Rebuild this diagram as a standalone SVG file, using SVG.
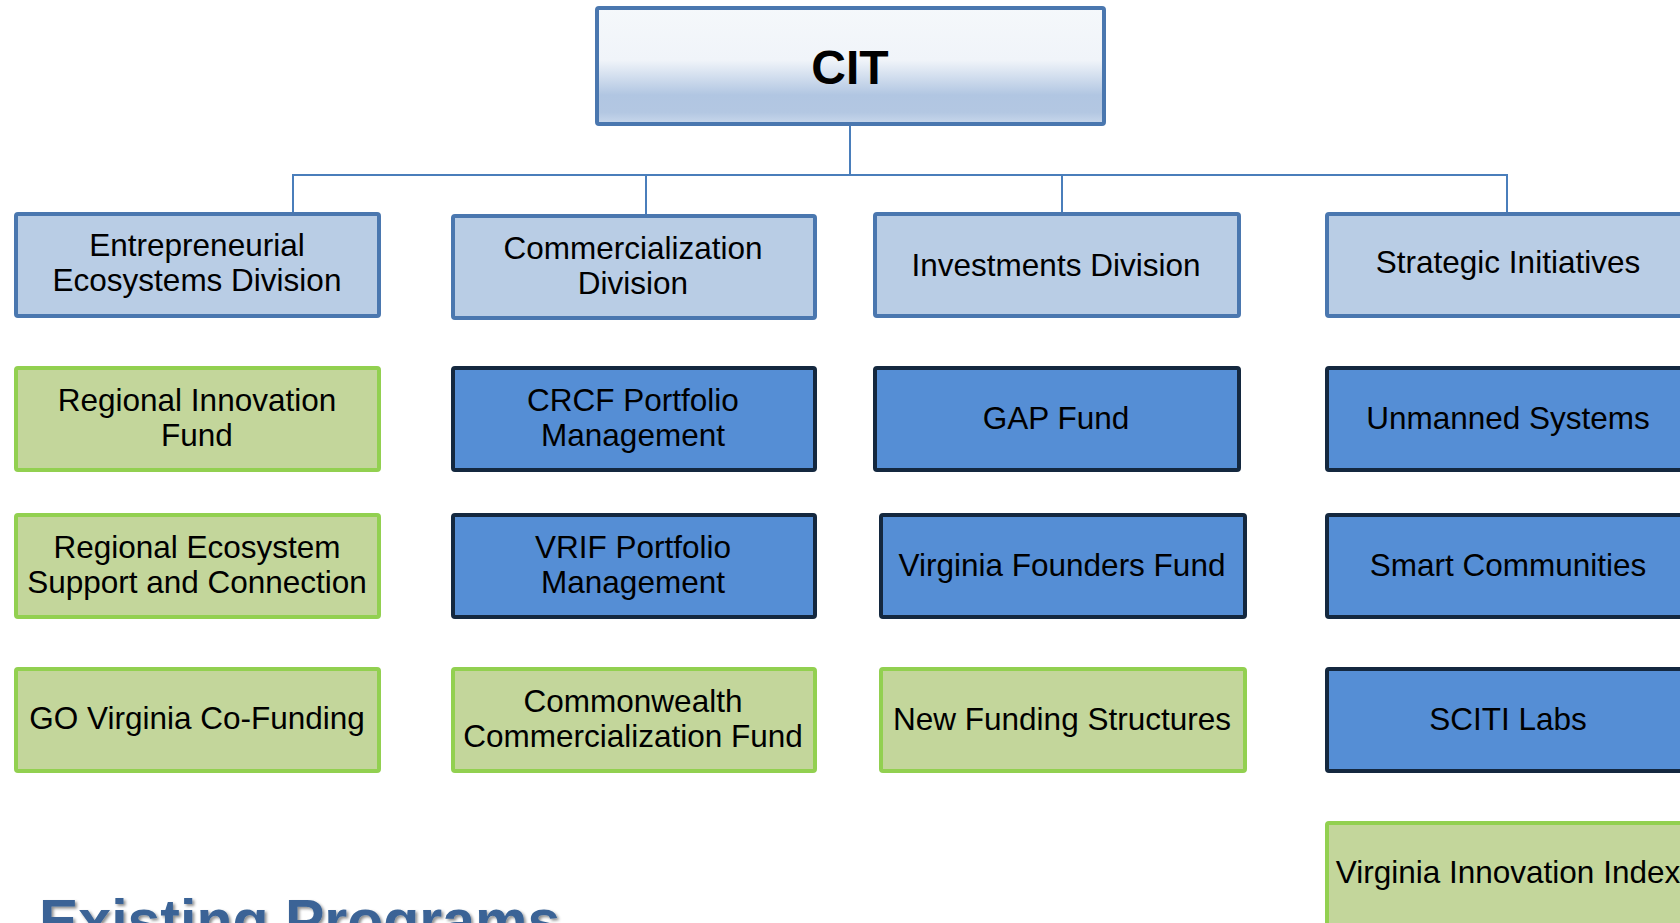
<svg xmlns="http://www.w3.org/2000/svg" width="1680" height="923" viewBox="0 0 1680 923">
  <defs>
    <linearGradient id="citFill" x1="0" y1="0" x2="0" y2="1">
      <stop offset="0" stop-color="#F5F8FB"/>
      <stop offset="0.45" stop-color="#F0F4F9"/>
      <stop offset="0.75" stop-color="#B1C6E2"/>
      <stop offset="0.9" stop-color="#B3C7E2"/>
      <stop offset="1" stop-color="#C9D8EC"/>
    </linearGradient>
    <filter id="titleShadow" x="-5%" y="-20%" width="110%" height="140%">
      <feDropShadow dx="2" dy="2" stdDeviation="1.5" flood-color="#000" flood-opacity="0.45"/>
    </filter>
  </defs>
  <style>
    text { font-family: "Liberation Sans", Arial, sans-serif; fill: #000; text-anchor: middle; }
    .lbl { font-size: 31.5px; }
    .root rect { fill: url(#citFill); stroke: #4A77AF; stroke-width: 4; }
    .div rect { fill: #B9CDE5; stroke: #4A77AF; stroke-width: 4; }
    .blue rect { fill: #558ED5; stroke: #14283F; stroke-width: 4; }
    .green rect { fill: #C3D69B; stroke: #92D050; stroke-width: 4; }
    #connectors path { fill: none; stroke: #4A7EBB; stroke-width: 2; }
  </style>
  <rect width="1680" height="923" fill="#FFFFFF"/>

  <!-- org chart lines -->
  <g id="connectors">
    <path d="M850 124 V175"/>
    <path d="M293 212 V175 H1507 V212"/>
    <path d="M646 175 V214"/>
    <path d="M1062 175 V212"/>
  </g>

  <!-- top level -->
  <g id="cit" class="root">
    <rect x="597" y="8" width="507" height="116" rx="2"/>
    <text x="850" y="84" style="font-size:48px;font-weight:bold">CIT</text>
  </g>

  <!-- divisions -->
  <g id="div-entrepreneurial" class="div">
    <rect x="16" y="214" width="363" height="102" rx="2"/>
    <text class="lbl" x="197" y="256">Entrepreneurial</text>
    <text class="lbl" x="197" y="291">Ecosystems Division</text>
  </g>
  <g id="div-commercialization" class="div">
    <rect x="453" y="216" width="362" height="102" rx="2"/>
    <text class="lbl" x="633" y="259">Commercialization</text>
    <text class="lbl" x="633" y="294">Division</text>
  </g>
  <g id="div-investments" class="div">
    <rect x="875" y="214" width="364" height="102" rx="2"/>
    <text class="lbl" x="1056" y="276">Investments Division</text>
  </g>
  <g id="div-strategic" class="div">
    <rect x="1327" y="214" width="362" height="102" rx="2"/>
    <text class="lbl" x="1508" y="273">Strategic Initiatives</text>
  </g>

  <!-- Entrepreneurial Ecosystems programs -->
  <g id="regional-innovation-fund" class="green">
    <rect x="16" y="368" width="363" height="102" rx="2"/>
    <text class="lbl" x="197" y="411">Regional Innovation</text>
    <text class="lbl" x="197" y="446">Fund</text>
  </g>
  <g id="regional-ecosystem" class="green">
    <rect x="16" y="515" width="363" height="102" rx="2"/>
    <text class="lbl" x="197" y="558">Regional Ecosystem</text>
    <text class="lbl" x="197" y="593">Support and Connection</text>
  </g>
  <g id="go-virginia" class="green">
    <rect x="16" y="669" width="363" height="102" rx="2"/>
    <text class="lbl" x="197" y="729">GO Virginia Co-Funding</text>
  </g>

  <!-- Commercialization programs -->
  <g id="crcf" class="blue">
    <rect x="453" y="368" width="362" height="102" rx="2"/>
    <text class="lbl" x="633" y="411">CRCF Portfolio</text>
    <text class="lbl" x="633" y="446">Management</text>
  </g>
  <g id="vrif" class="blue">
    <rect x="453" y="515" width="362" height="102" rx="2"/>
    <text class="lbl" x="633" y="558">VRIF Portfolio</text>
    <text class="lbl" x="633" y="593">Management</text>
  </g>
  <g id="commonwealth-fund" class="green">
    <rect x="453" y="669" width="362" height="102" rx="2"/>
    <text class="lbl" x="633" y="712">Commonwealth</text>
    <text class="lbl" x="633" y="747">Commercialization Fund</text>
  </g>

  <!-- Investments programs -->
  <g id="gap-fund" class="blue">
    <rect x="875" y="368" width="364" height="102" rx="2"/>
    <text class="lbl" x="1056" y="429">GAP Fund</text>
  </g>
  <g id="founders-fund" class="blue">
    <rect x="881" y="515" width="364" height="102" rx="2"/>
    <text class="lbl" x="1062" y="576">Virginia Founders Fund</text>
  </g>
  <g id="new-funding" class="green">
    <rect x="881" y="669" width="364" height="102" rx="2"/>
    <text class="lbl" x="1062" y="730">New Funding Structures</text>
  </g>

  <!-- Strategic Initiatives programs -->
  <g id="unmanned-systems" class="blue">
    <rect x="1327" y="368" width="362" height="102" rx="2"/>
    <text class="lbl" x="1508" y="429">Unmanned Systems</text>
  </g>
  <g id="smart-communities" class="blue">
    <rect x="1327" y="515" width="362" height="102" rx="2"/>
    <text class="lbl" x="1508" y="576">Smart Communities</text>
  </g>
  <g id="sciti-labs" class="blue">
    <rect x="1327" y="669" width="362" height="102" rx="2"/>
    <text class="lbl" x="1508" y="730">SCITI Labs</text>
  </g>
  <g id="innovation-index" class="green">
    <rect x="1327" y="823" width="362" height="102" rx="2"/>
    <text class="lbl" x="1508" y="883">Virginia Innovation Index</text>
  </g>

  <!-- section title -->
  <text x="39" y="941" filter="url(#titleShadow)" style="font-size:59px;font-weight:bold;fill:#3A6496;text-anchor:start">Existing Programs</text>
</svg>
